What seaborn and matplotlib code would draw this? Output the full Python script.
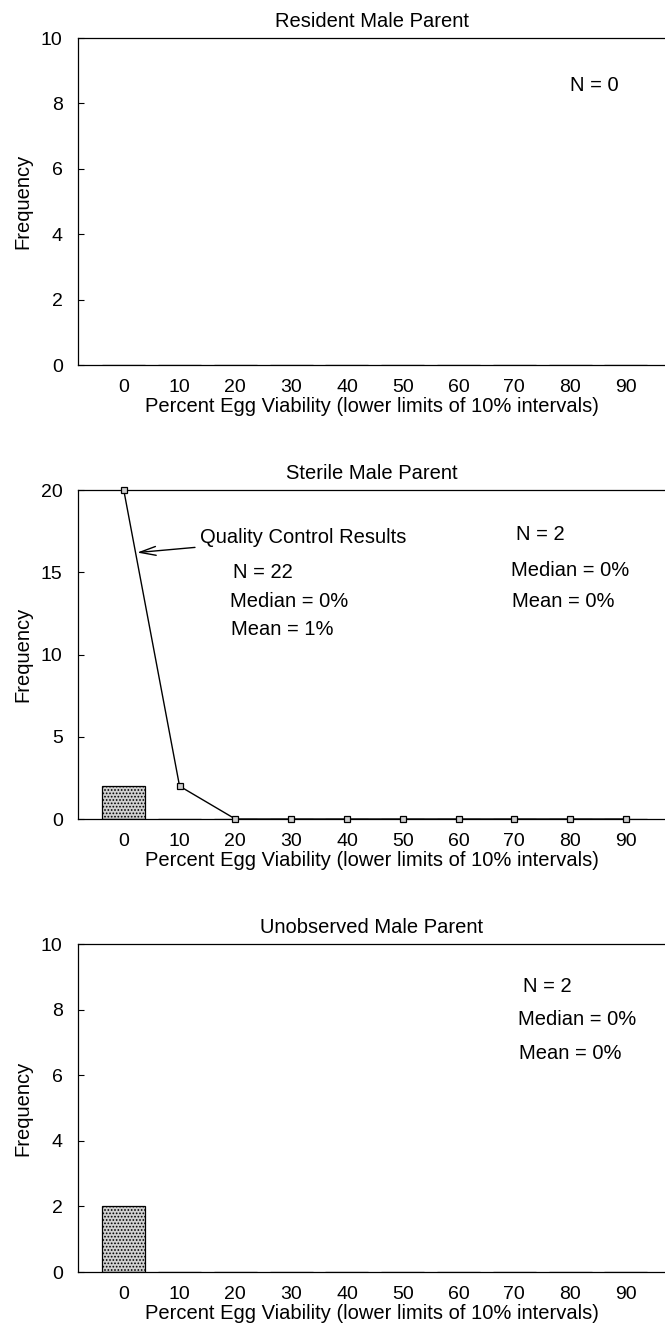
import matplotlib
matplotlib.use("Agg")
import matplotlib.pyplot as plt
import seaborn as sns
import pandas as pd

# DATA
viability = ["0", "10", "20", "30", "40", "50", "60", "70", "80", "90"]
resident_counts = [0, 0, 0, 0, 0, 0, 0, 0, 0, 0]
sterile_counts = [2, 0, 0, 0, 0, 0, 0, 0, 0, 0]
unobserved_counts = [2, 0, 0, 0, 0, 0, 0, 0, 0, 0]
qc_counts = [20, 2, 0, 0, 0, 0, 0, 0, 0, 0]

titles = ["Resident Male Parent", "Sterile Male Parent", "Unobserved Male Parent"]
xlabel = "Percent Egg Viability (lower limits of 10% intervals)"

# CONFIG
sns.set_theme(style="ticks", rc={
    "text.color": "black",
    "axes.labelcolor": "black",
    "xtick.color": "black",
    "ytick.color": "black",
    "axes.edgecolor": "black",
})
plt.rcParams["font.family"] = ["Liberation Sans", "DejaVu Sans"]
plt.rcParams["hatch.linewidth"] = 0.8
plt.rcParams["hatch.color"] = "black"

FS = 14.5

fig = plt.figure(figsize=(6.65, 13.27), dpi=100)
left, width = 0.1173, 0.8827
ax1 = fig.add_axes([left, 0.7249, width, 0.2464])
ax2 = fig.add_axes([left, 0.3828, width, 0.2479])
ax3 = fig.add_axes([left, 0.0414, width, 0.2472])


def style_axes(ax, ymax, ystep):
    ax.set_xlim(-0.82, 9.70)
    ax.set_ylim(0, ymax)
    ax.set_yticks(range(0, ymax + 1, ystep))
    ax.set_xlabel(xlabel, fontsize=FS, labelpad=1)
    ax.set_ylabel("Frequency", fontsize=FS, labelpad=6)
    ax.tick_params(axis="x", length=0, pad=10, labelsize=14)
    ax.tick_params(axis="y", direction="in", length=4, width=0.8,
                   pad=11, labelsize=14)
    ax.spines["right"].set_visible(False)
    for s in ["left", "top", "bottom"]:
        ax.spines[s].set_linewidth(0.9)


def draw_panel(ax, counts, title, ymax, ystep):
    df = pd.DataFrame({"viability": viability, "count": counts})
    sns.barplot(data=df, x="viability", y="count", order=viability,
                width=0.77, color="#d0d0d0", saturation=1,
                edgecolor="black", linewidth=0.9, hatch=".....", ax=ax)
    ax.set_title(title, fontsize=FS, pad=8)
    style_axes(ax, ymax, ystep)


# 1. RESIDENT
draw_panel(ax1, resident_counts, titles[0], 10, 2)
ax1.text(8.0, 8.55, "N = 0", fontsize=FS, ha="left", va="center")

# 2. STERILE + QUALITY CONTROL
draw_panel(ax2, sterile_counts, titles[1], 20, 5)
sns.pointplot(x=viability, y=qc_counts, order=viability, color="black",
              markers="s", linestyles="-", errorbar=None,
              markersize=5, markerfacecolor="#cfcfcf",
              markeredgewidth=0.9, linewidth=1.0, clip_on=False,
              zorder=5, ax=ax2)
style_axes(ax2, 20, 5)

ax2.annotate("Quality Control Results", xy=(0.24, 16.2), xytext=(1.36, 17.1),
             fontsize=FS, ha="left", va="center",
             arrowprops=dict(arrowstyle="->,head_length=0.8,head_width=0.22",
                             color="black", lw=1.0, shrinkA=1, shrinkB=0))
ax2.text(1.95, 15.0, "N = 22", fontsize=FS, ha="left", va="center")
ax2.text(1.90, 13.2, "Median = 0%", fontsize=FS, ha="left", va="center")
ax2.text(1.93, 11.55, "Mean = 1%", fontsize=FS, ha="left", va="center")
ax2.text(7.03, 17.3, "N = 2", fontsize=FS, ha="left", va="center")
ax2.text(6.94, 15.1, "Median = 0%", fontsize=FS, ha="left", va="center")
ax2.text(6.96, 13.2, "Mean = 0%", fontsize=FS, ha="left", va="center")

# 3. UNOBSERVED
draw_panel(ax3, unobserved_counts, titles[2], 10, 2)
ax3.text(7.15, 8.7, "N = 2", fontsize=FS, ha="left", va="center")
ax3.text(7.06, 7.69, "Median = 0%", fontsize=FS, ha="left", va="center")
ax3.text(7.09, 6.67, "Mean = 0%", fontsize=FS, ha="left", va="center")

fig.savefig("out.png", dpi=100)
